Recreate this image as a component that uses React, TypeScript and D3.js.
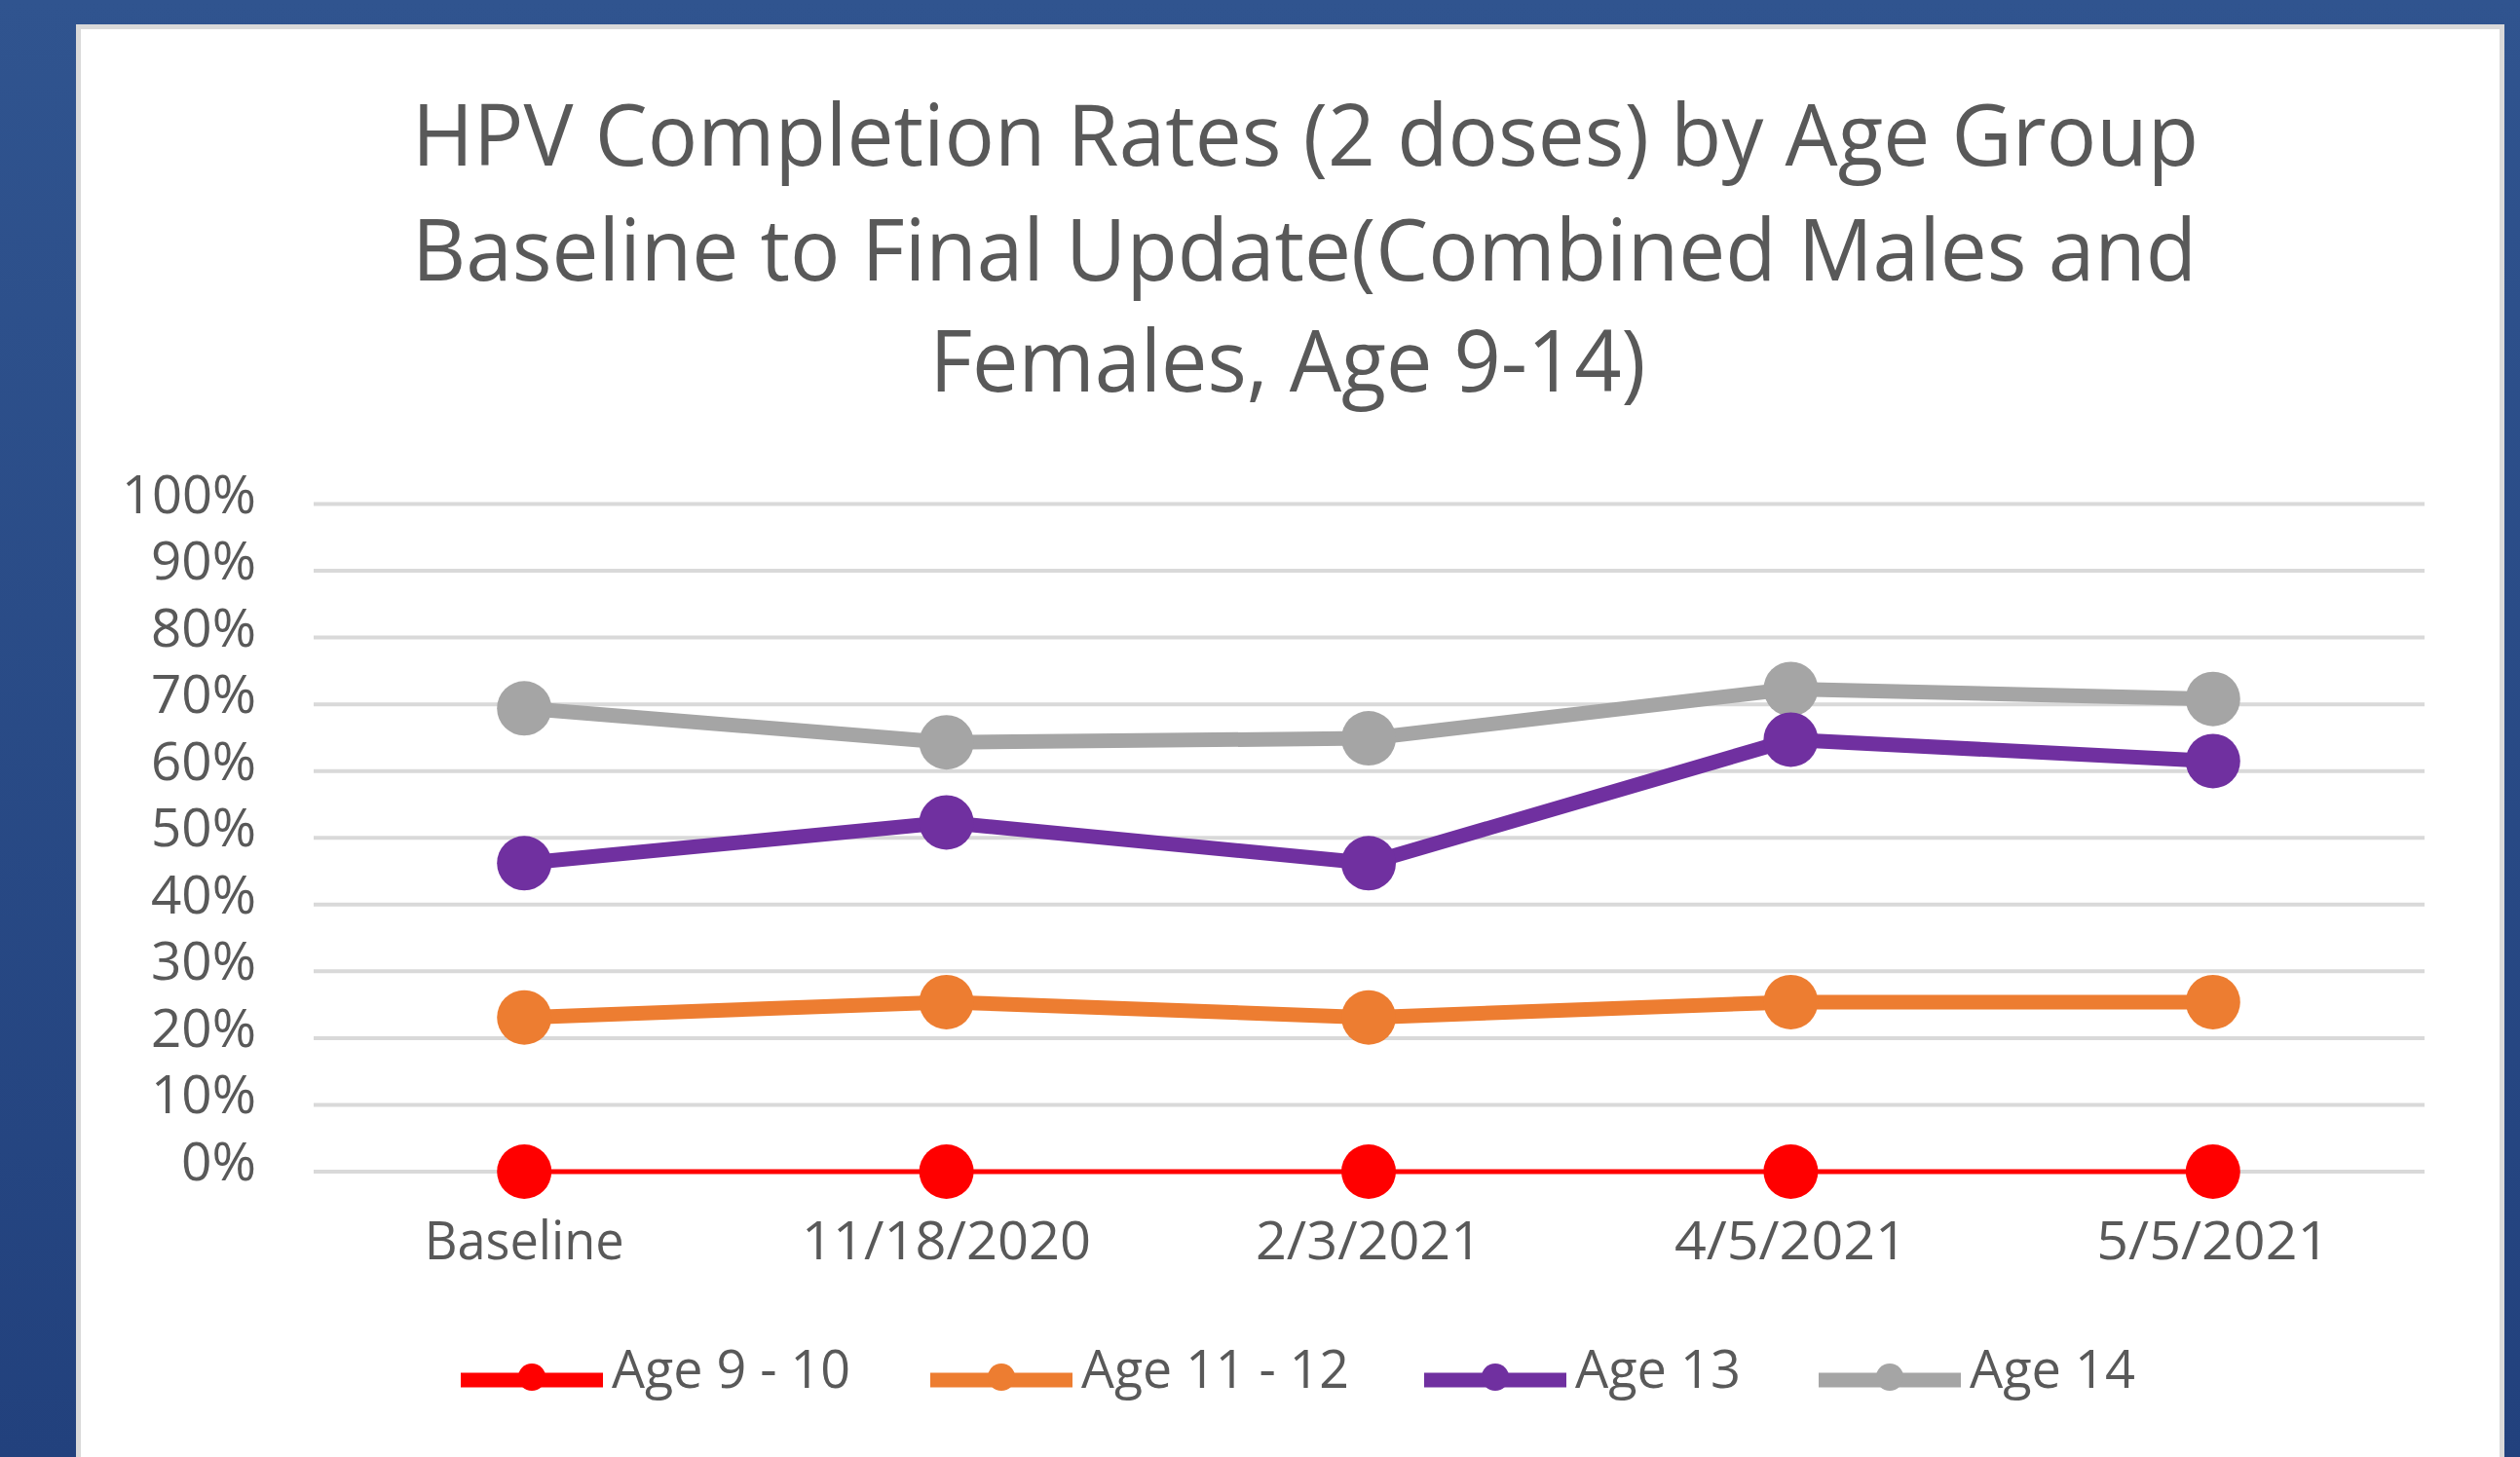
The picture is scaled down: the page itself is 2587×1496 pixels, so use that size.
import React from "react";
import * as d3 from "d3";

const categories = ["Baseline", "11/18/2020", "2/3/2021", "4/5/2021", "5/5/2021"];
const seriesNames = ["Age 9 - 10", "Age 11 - 12", "Age 13", "Age 14"];
const age9to10 = [0, 0, 0, 0, 0];
const age11to12 = [0.231, 0.254, 0.231, 0.254, 0.254];
const age13 = [0.462, 0.523, 0.462, 0.647, 0.615];
const age14 = [0.694, 0.643, 0.649, 0.723, 0.708];
const yTicks = [0, 0.1, 0.2, 0.3, 0.4, 0.5, 0.6, 0.7, 0.8, 0.9, 1];
const titleLines = [
  "HPV Completion Rates (2 doses) by Age Group",
  "Baseline to Final Update(Combined Males and",
  "Females, Age 9-14)",
];

const colors = ["#ff0000", "#ed7d31", "#7030a0", "#a5a5a5"];
const FONT = "'Open Sans', 'Noto Sans', sans-serif";
const TEXT = "#595959";

export default function App() {
  const W = 2587, H = 1496;
  const x = d3.scaleBand<string>().domain(categories).range([321.5, 2488.5]);
  const y = d3.scaleLinear().domain([0, 1]).range([1203, 517.5]);
  const cx = (c: string) => (x(c) as number) + x.bandwidth() / 2;
  const line = d3
    .line<number>()
    .x((_, i) => cx(categories[i]))
    .y((v) => y(v));

  const series = [
    { name: seriesNames[0], values: age9to10, color: colors[0], width: 5 },
    { name: seriesNames[1], values: age11to12, color: colors[1], width: 15 },
    { name: seriesNames[2], values: age13, color: colors[2], width: 15 },
    { name: seriesNames[3], values: age14, color: colors[3], width: 15 },
  ];
  const drawOrder = [0, 1, 3, 2];

  const titleLayout = [
    { cx: 1340, y: 170, w: 1834 },
    { cx: 1339, y: 288, w: 1832 },
    { cx: 1322, y: 402, w: 735 },
  ];
  const xLabelW = [205, 297, 232, 239, 239];
  const yLabelW = (t: number) => (t === 1 ? 138 : t === 0 ? 77 : 108);
  const legendX = [473, 955, 1462, 1867];
  const legendTextW = [245, 275, 170, 170];

  return (
    <svg
      width={W}
      height={H}
      viewBox={`0 0 ${W} ${H}`}
      style={{ position: "absolute", left: 0, top: 0, display: "block" }}
    >
      <defs>
        <linearGradient id="bg" x1="0" y1="0" x2="0" y2="1">
          <stop offset="0" stopColor="#30548f" />
          <stop offset="1" stopColor="#22417d" />
        </linearGradient>
      </defs>
      <rect x={0} y={0} width={W} height={H} fill="url(#bg)" />
      <rect x={78} y={25} width={2493} height={H} fill="#d9d9d9" />
      <rect x={83} y={30} width={2483} height={H} fill="#ffffff" />

      {titleLines.map((t, i) => (
        <text
          key={t}
          x={titleLayout[i].cx}
          y={titleLayout[i].y}
          textAnchor="middle"
          fontFamily={FONT}
          fontSize={87}
          fill={TEXT}
          textLength={titleLayout[i].w}
          lengthAdjust="spacingAndGlyphs"
        >
          {t}
        </text>
      ))}

      {yTicks.map((t) => (
        <g key={t}>
          <line x1={322} x2={2489} y1={y(t)} y2={y(t)} stroke="#d9d9d9" strokeWidth={4} />
          <text
            x={263}
            y={y(t) + 9}
            textAnchor="end"
            fontFamily={FONT}
            fontSize={55}
            fill={TEXT}
            textLength={yLabelW(t)}
            lengthAdjust="spacingAndGlyphs"
          >
            {d3.format(".0%")(t)}
          </text>
        </g>
      ))}

      {categories.map((c, i) => (
        <text
          key={c}
          x={cx(c)}
          y={1293}
          textAnchor="middle"
          fontFamily={FONT}
          fontSize={55}
          fill={TEXT}
          textLength={xLabelW[i]}
          lengthAdjust="spacingAndGlyphs"
        >
          {c}
        </text>
      ))}

      {drawOrder.map((si) => {
        const s = series[si];
        return (
          <g key={s.name}>
            <path
              d={line(s.values) || ""}
              fill="none"
              stroke={s.color}
              strokeWidth={s.width}
              strokeLinejoin="round"
            />
            {s.values.map((v, i) => (
              <circle key={i} cx={cx(categories[i])} cy={y(v)} r={28} fill={s.color} />
            ))}
          </g>
        );
      })}

      {series.map((s, i) => (
        <g key={s.name}>
          <line
            x1={legendX[i]}
            x2={legendX[i] + 146}
            y1={1417}
            y2={1417}
            stroke={s.color}
            strokeWidth={15}
          />
          <circle cx={legendX[i] + 73} cy={1414} r={14} fill={s.color} />
          <text
            x={legendX[i] + 155}
            y={1425}
            fontFamily={FONT}
            fontSize={55}
            fill={TEXT}
            textLength={legendTextW[i]}
            lengthAdjust="spacingAndGlyphs"
          >
            {s.name}
          </text>
        </g>
      ))}
    </svg>
  );
}
